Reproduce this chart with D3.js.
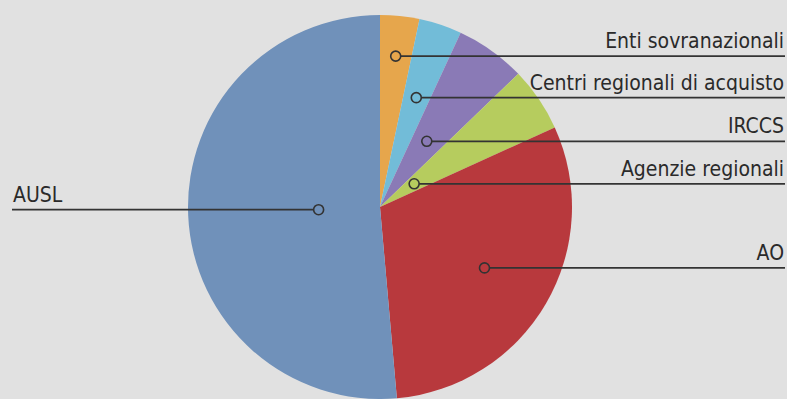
<!DOCTYPE html>
<html>
<head>
    <script src="https://d3js.org/d3.v7.min.js"></script>
    <style>
        html, body { margin: 0; padding: 0; background: #e1e1e1; }
        svg { display: block; }
        .label { font-family: "DejaVu Sans Condensed", "DejaVu Sans", sans-serif; font-size: 21px; fill: #2a2a2a; }
    </style>
</head>
<body>
<div id="chart"></div>
<script>
    // Data, clockwise from 12 o'clock
    var categories = ["Enti sovranazionali", "Centri regionali di acquisto", "IRCCS", "Agenzie regionali", "AO", "AUSL"];
    var shares = [3.3, 3.6, 5.9, 5.4, 30.4, 51.4];
    var colors = ["#e6a64c", "#72bcd8", "#8a7ab6", "#b6cc5e", "#b8393d", "#7091ba"];
    // how far out along the slice's middle the marker sits (fraction of radius)
    var markerDepth = [0.79, 0.60, 0.42, 0.215, 0.63, 0.32];
    var labelSide = ["right", "right", "right", "right", "right", "left"];

    var width = 787, height = 399;
    var cx = 380, cy = 207, radius = 192;

    var data = categories.map(function(c, i) {
        return { name: c, value: shares[i], color: colors[i], depth: markerDepth[i], side: labelSide[i] };
    });

    var svg = d3.select('#chart').append('svg')
        .attr('width', width)
        .attr('height', height);

    var g = svg.append('g')
        .attr('transform', 'translate(' + cx + ',' + cy + ')');

    var pie = d3.pie().sort(null).value(function(d) { return d.value; });
    var arcs = pie(data);
    var arc = d3.arc().innerRadius(0).outerRadius(radius);

    g.selectAll('path.slice')
        .data(arcs)
        .enter().append('path')
        .attr('class', 'slice')
        .attr('d', arc)
        .attr('fill', function(d) { return d.data.color; });

    // marker point along the middle of each slice
    function markerPos(d) {
        var a = (d.startAngle + d.endAngle) / 2;
        var r = d.data.depth * radius;
        return [Math.sin(a) * r, -Math.cos(a) * r];
    }

    var leftX = 12 - cx, rightX = 785 - cx;

    var callouts = g.selectAll('g.callout')
        .data(arcs)
        .enter().append('g')
        .attr('class', 'callout');

    callouts.append('line')
        .attr('x1', function(d) { var p = markerPos(d); return d.data.side === 'left' ? p[0] - 5 : p[0] + 5; })
        .attr('x2', function(d) { return d.data.side === 'left' ? leftX : rightX; })
        .attr('y1', function(d) { return markerPos(d)[1]; })
        .attr('y2', function(d) { return markerPos(d)[1]; })
        .attr('stroke', '#333')
        .attr('stroke-width', 1.8);

    callouts.append('circle')
        .attr('cx', function(d) { return markerPos(d)[0]; })
        .attr('cy', function(d) { return markerPos(d)[1]; })
        .attr('r', 5)
        .attr('fill', 'none')
        .attr('stroke', '#333')
        .attr('stroke-width', 1.6);

    callouts.append('text')
        .attr('class', 'label')
        .attr('x', function(d) { return d.data.side === 'left' ? leftX + 1 : rightX - 1; })
        .attr('y', function(d) { return markerPos(d)[1] - 8; })
        .attr('text-anchor', function(d) { return d.data.side === 'left' ? 'start' : 'end'; })
        .text(function(d) { return d.data.name; });
</script>
</body>
</html>
